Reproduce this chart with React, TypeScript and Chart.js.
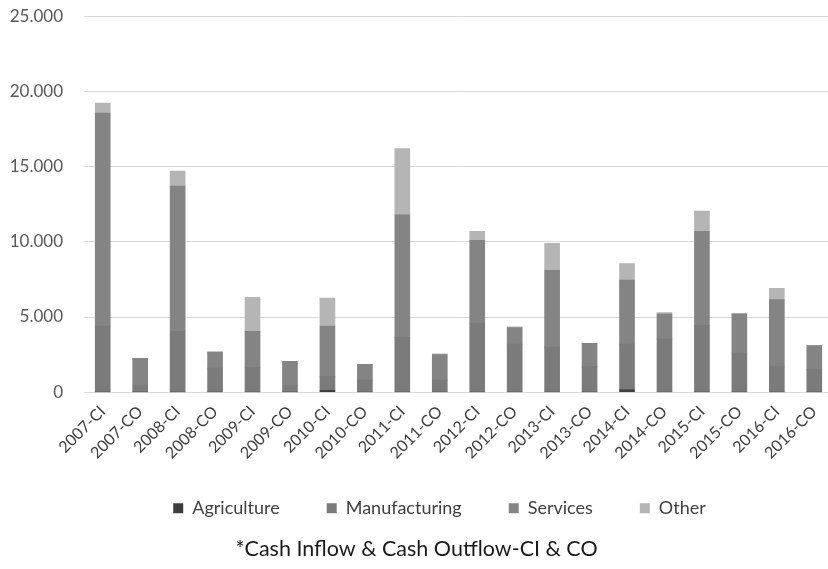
import React, { useEffect, useRef } from "react";
import { Chart, registerables } from "chart.js";

Chart.register(...registerables);

const categories = [
  "2007-CI", "2007-CO", "2008-CI", "2008-CO", "2009-CI", "2009-CO",
  "2010-CI", "2010-CO", "2011-CI", "2011-CO", "2012-CI", "2012-CO",
  "2013-CI", "2013-CO", "2014-CI", "2014-CO", "2015-CI", "2015-CO",
  "2016-CI", "2016-CO",
];

const agriculture = [0, 0, 0, 0, 0, 0, 130, 0, 0, 0, 0, 0, 0, 0, 180, 0, 0, 0, 0, 0];
const manufacturing = [4400, 460, 4100, 1600, 1660, 460, 930, 800, 3650, 800, 4600, 3200, 3000, 1700, 3020, 3550, 4450, 2600, 1700, 1500];
const services = [14160, 1790, 9600, 1050, 2390, 1600, 3340, 1060, 8150, 1700, 5500, 1100, 5100, 1550, 4250, 1650, 6250, 2600, 4450, 1600];
const other = [670, 0, 1000, 50, 2250, 0, 1850, 0, 4400, 50, 600, 50, 1800, 0, 1100, 100, 1350, 50, 750, 0];

const yTicks = [0, 5000, 10000, 15000, 20000, 25000];

const FONT = "Lato, 'Open Sans', sans-serif";

// Keeps the legend row compact vertically (its label padding is wide for
// horizontal spacing) and nudges it right of the canvas centre.
const legendPlacement = {
  id: "legendPlacement",
  beforeLayout(chart: any) {
    const lg = chart.legend;
    if (lg && !lg.__compact) {
      const fit = lg.fit;
      lg.fit = function () {
        fit.call(this);
        this.height = 53;
      };
      lg.__compact = true;
    }
  },
  afterLayout(chart: any) {
    const lg = chart.legend;
    if (lg) {
      lg.left += 23;
      lg.right += 23;
      lg.top -= 18;
      lg.height = lg.bottom - lg.top;
    }
  },
};

export default function App() {
  const canvasRef = useRef<HTMLCanvasElement | null>(null);

  useEffect(() => {
    const canvas = canvasRef.current;
    if (!canvas) return;
    const chart = new Chart(canvas, {
      type: "bar",
      data: {
        labels: categories,
        datasets: [
          { label: "Agriculture", data: agriculture, backgroundColor: "#3e3e3e" },
          { label: "Manufacturing", data: manufacturing, backgroundColor: "#7b7b7b" },
          { label: "Services", data: services, backgroundColor: "#848484" },
          { label: "Other", data: other, backgroundColor: "#b5b5b5" },
        ],
      },
      plugins: [legendPlacement],
      options: {
        animation: false,
        responsive: false,
        maintainAspectRatio: false,
        layout: { padding: { top: 0, left: 0, right: 3, bottom: 4 } },
        datasets: { bar: { barThickness: 15 } },
        scales: {
          x: {
            stacked: true,
            grid: { display: false },
            border: { color: "#d9d9d9" },
            afterFit: (axis: any) => {
              axis.height = 78;
            },
            ticks: {
              minRotation: 45,
              maxRotation: 45,
              autoSkip: false,
              color: "#404040",
              font: { family: FONT, size: 16 },
              padding: 2,
            },
          },
          y: {
            stacked: true,
            min: 0,
            max: 25000,
            afterBuildTicks: (axis: any) => {
              axis.ticks = yTicks.map((v) => ({ value: v }));
            },
            afterFit: (axis: any) => {
              axis.width = 84;
            },
            grid: { color: "#d9d9d9", drawTicks: false },
            border: { display: false },
            ticks: {
              color: "#595959",
              font: { family: FONT, size: 17 },
              padding: 21,
              callback: (v: any) => Number(v).toLocaleString("de-DE"),
            },
          },
        },
        plugins: {
          legend: {
            position: "bottom",
            labels: {
              boxWidth: 10,
              boxHeight: 10,
              padding: 47,
              color: "#404040",
              font: { family: FONT, size: 18 },
            },
          },
          title: {
            display: true,
            position: "bottom",
            text: "*Cash Inflow & Cash Outflow-CI & CO",
            color: "#1a1a1a",
            font: { family: FONT, size: 21.5, weight: "normal" },
            padding: { top: 13, bottom: 3 },
          },
          tooltip: { enabled: false },
        },
      },
    });
    return () => chart.destroy();
  }, []);

  return (
    <div
      style={{
        position: "fixed",
        left: 0,
        top: 0,
        width: 828,
        height: 569,
        overflow: "hidden",
        background: "#ffffff",
      }}
    >
      <canvas
        ref={canvasRef}
        width={836}
        height={584}
        style={{ display: "block", position: "absolute", left: 0, top: -15 }}
      />
    </div>
  );
}
